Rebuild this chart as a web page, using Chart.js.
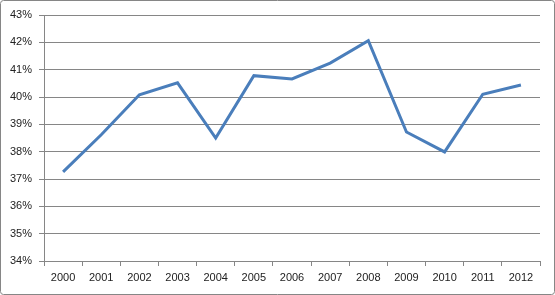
<!DOCTYPE html>
<html>
<head>
<meta charset="utf-8">
<script src="https://cdn.jsdelivr.net/npm/chart.js@4"></script>
<style>
  html, body { margin: 0; padding: 0; background: #fff; }
  #wrap { width: 555px; height: 295px; }
</style>
</head>
<body>
<div id="wrap"><canvas id="chart" width="555" height="295"></canvas></div>
<script>
// years along the bottom
const years = ['2000', '2001', '2002', '2003', '2004', '2005', '2006',
               '2007', '2008', '2009', '2010', '2011', '2012'];
// share in percent
const shares = [37.26, 38.62, 40.08, 40.52, 38.5, 40.78, 40.66,
                41.24, 42.06, 38.72, 37.99, 40.1, 40.44];
// value axis range
const yMin = 34;
const yMax = 43;

const gray = '#868686';

// grey rounded frame round the whole picture
const frame = {
    id: 'frame',
    beforeDraw(chart) {
        const c = chart.ctx;
        c.save();
        c.fillStyle = '#fff';
        c.fillRect(0, 0, chart.width, chart.height);
        c.strokeStyle = gray;
        c.lineWidth = 1;
        c.beginPath();
        c.roundRect(0.5, 0.5, chart.width - 1, chart.height - 1, 3);
        c.stroke();
        c.restore();
    }
};

const ctx = document.getElementById('chart').getContext('2d');
new Chart(ctx, {
    type: 'line',
    data: {
        labels: years,
        datasets: [{
            data: shares,
            borderColor: '#4a7ebb',
            borderWidth: 3,
            pointRadius: 0,
            tension: 0,
            fill: false
        }]
    },
    options: {
        responsive: false,
        animation: false,
        layout: { padding: { left: 0, top: 15, right: 15, bottom: 0 } },
        plugins: { legend: { display: false }, tooltip: { enabled: false } },
        scales: {
            x: {
                offset: true,
                afterFit: s => { s.height = 34; },
                grid: { offset: true, drawOnChartArea: false, drawTicks: true, tickLength: 5, color: gray },
                border: { display: true, color: gray },
                ticks: { color: '#222', padding: 5, maxRotation: 0, font: { family: 'Liberation Sans', size: 11 } }
            },
            y: {
                min: yMin,
                max: yMax,
                afterFit: s => { s.width = 44; },
                grid: { color: gray, drawTicks: true, tickLength: 5 },
                border: { display: true, color: gray },
                ticks: {
                    stepSize: 1,
                    color: '#222',
                    padding: 7,
                    font: { family: 'Liberation Sans', size: 11 },
                    callback: v => v + '%'
                }
            }
        }
    },
    plugins: [frame]
});
</script>
</body>
</html>
